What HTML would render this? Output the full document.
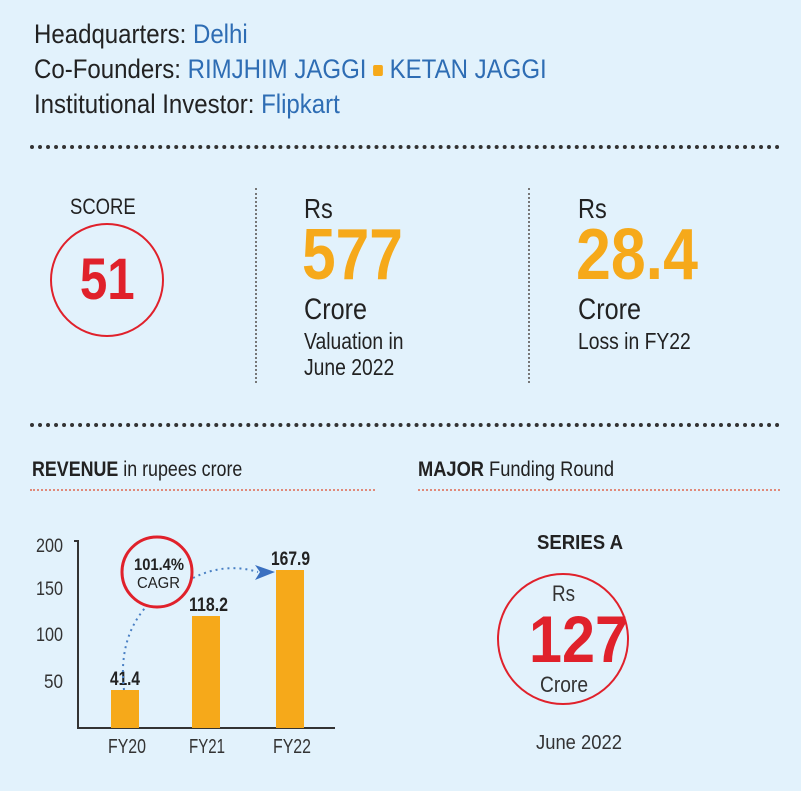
<!DOCTYPE html>
<html><head><style>
body{margin:0;width:801px;height:791px;background:#e2f2fc;font-family:"Liberation Sans",sans-serif;position:relative;overflow:hidden;color:#222}
.a{position:absolute;white-space:nowrap;transform-origin:0 0}
.n{transform:scaleX(0.84)}
.b{color:#2e6db4}
.o{color:#f6a91a;font-weight:bold}
.dot{position:absolute;border-top:4px dotted #333;height:0}
.vd{position:absolute;border-left:2px dotted #777;width:0}
</style></head><body>
<div class="a n" style="left:34px;top:17px;font-size:27px;line-height:35px;transform:scaleX(0.89)">Headquarters: <span class="b">Delhi</span><br>Co-Founders: <span class="b">RIMJHIM JAGGI <span style="display:inline-block;width:11px;height:11px;background:#f6a91a;border-radius:2px;vertical-align:middle"></span> KETAN JAGGI</span><br>Institutional Investor: <span class="b">Flipkart</span></div>
<div class="dot" style="left:30px;top:145px;width:750px"></div>

<div class="a n" style="left:70px;top:194px;font-size:22px">SCORE</div>
<div class="a" style="left:50px;top:223px;width:110px;height:110px;border:2px solid #e0212b;border-radius:50%;text-align:center;line-height:110px;font-size:58px;font-weight:bold;color:#e0212b"><span style="display:inline-block;transform:scaleX(0.85)">51</span></div>
<div class="vd" style="left:255px;top:188px;height:195px"></div>
<div class="vd" style="left:528px;top:188px;height:195px"></div>

<div class="a n" style="left:304px;top:193px;font-size:28px">Rs</div>
<div class="a o n" style="left:302px;top:218px;font-size:72px;line-height:74px">577</div>
<div class="a n" style="left:304px;top:293px;font-size:30px">Crore</div>
<div class="a n" style="left:304px;top:328px;font-size:23px;line-height:26px">Valuation in<br>June 2022</div>

<div class="a n" style="left:578px;top:193px;font-size:28px">Rs</div>
<div class="a o n" style="left:576px;top:218px;font-size:72px;line-height:74px;transform:scaleX(0.87)">28.4</div>
<div class="a n" style="left:578px;top:293px;font-size:30px">Crore</div>
<div class="a n" style="left:578px;top:328px;font-size:23px;line-height:26px">Loss in FY22</div>

<div class="dot" style="left:30px;top:423px;width:750px"></div>

<div class="a n" style="left:32px;top:458px;font-size:21px;transform:scaleX(0.85)"><b>REVENUE</b> in rupees crore</div>
<div class="a" style="left:30px;top:489px;width:345px;border-top:2px dotted #e08a7a"></div>
<div class="a n" style="left:418px;top:458px;font-size:21px;transform:scaleX(0.87)"><b>MAJOR</b> Funding Round</div>
<div class="a" style="left:418px;top:489px;width:362px;border-top:2px dotted #e08a7a"></div>

<svg class="a" style="left:0;top:0" width="801" height="791">
<g font-family="Liberation Sans,sans-serif" font-size="19" fill="#333">
<text x="36" y="552" textLength="27" lengthAdjust="spacingAndGlyphs">200</text><text x="36" y="595" textLength="27" lengthAdjust="spacingAndGlyphs">150</text><text x="36" y="641" textLength="27" lengthAdjust="spacingAndGlyphs">100</text><text x="44" y="688" textLength="19" lengthAdjust="spacingAndGlyphs">50</text></g>
<path d="M74 541H78V728H335" fill="none" stroke="#333" stroke-width="2"/>
<rect x="111" y="690" width="28" height="38" fill="#f6a91a"/>
<rect x="192" y="616" width="28" height="112" fill="#f6a91a"/>
<rect x="276" y="570" width="28" height="158" fill="#f6a91a"/>
<g font-family="Liberation Sans,sans-serif" font-size="19" font-weight="bold" fill="#222">
<text x="110" y="685" textLength="30" lengthAdjust="spacingAndGlyphs">41.4</text><text x="189" y="611" textLength="39" lengthAdjust="spacingAndGlyphs">118.2</text><text x="271" y="565" textLength="39" lengthAdjust="spacingAndGlyphs">167.9</text></g>
<g font-family="Liberation Sans,sans-serif" font-size="20" fill="#333">
<text x="108" y="753" textLength="38" lengthAdjust="spacingAndGlyphs">FY20</text><text x="189" y="753" textLength="36" lengthAdjust="spacingAndGlyphs">FY21</text><text x="273" y="753" textLength="38" lengthAdjust="spacingAndGlyphs">FY22</text></g>
<path d="M124 690 Q118 640 145 608" fill="none" stroke="#4a80c4" stroke-width="2" stroke-dasharray="2 4"/>
<path d="M193 578 Q225 562 258 572" fill="none" stroke="#4a80c4" stroke-width="2" stroke-dasharray="2 4"/>
<path d="M255 565 L275 572 L255 580 L260 572Z" fill="#3a70c0"/>
<circle cx="157" cy="572" r="35" fill="none" stroke="#e0212b" stroke-width="3"/>
<g font-family="Liberation Sans,sans-serif" fill="#222">
<text x="134" y="570" font-size="17" font-weight="bold" textLength="50" lengthAdjust="spacingAndGlyphs">101.4%</text><text x="137" y="588" font-size="16" textLength="43" lengthAdjust="spacingAndGlyphs">CAGR</text></g>
<circle cx="563" cy="639" r="65" fill="none" stroke="#e0212b" stroke-width="2"/>
<g font-family="Liberation Sans,sans-serif">
<text x="537" y="549" font-size="20" font-weight="bold" fill="#222" textLength="86" lengthAdjust="spacingAndGlyphs">SERIES A</text>
<text x="552" y="601" font-size="22" fill="#333" textLength="23" lengthAdjust="spacingAndGlyphs">Rs</text>
<text x="529" y="662" font-size="66" font-weight="bold" fill="#e0212b" textLength="99" lengthAdjust="spacingAndGlyphs">127</text>
<text x="540" y="692" font-size="22" fill="#333" textLength="48" lengthAdjust="spacingAndGlyphs">Crore</text>
<text x="536" y="749" font-size="20" fill="#333" textLength="86" lengthAdjust="spacingAndGlyphs">June 2022</text></g>
</svg>
</body></html>
